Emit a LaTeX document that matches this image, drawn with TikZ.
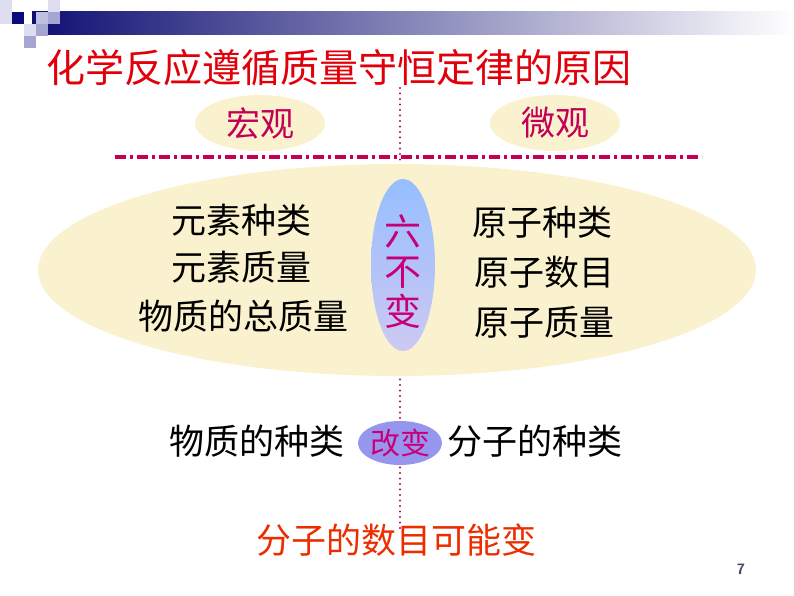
\documentclass[tikz,border=0pt]{standalone}
\usepackage{fontspec}
\newfontfamily\cjk{Noto Sans CJK SC}
\usetikzlibrary{shapes.geometric}
\definecolor{titlered}{RGB}{225,0,10}
\definecolor{maroon}{RGB}{195,0,85}
\definecolor{magtext}{RGB}{200,0,120}
\definecolor{paleyel}{RGB}{250,242,206}
\definecolor{orangered}{RGB}{235,45,0}
\definecolor{navybar}{RGB}{15,15,115}
\definecolor{sqlight}{RGB}{222,222,240}
\definecolor{sqmid}{RGB}{165,165,210}
\definecolor{sqnavy}{RGB}{10,10,125}
\definecolor{liftblue}{RGB}{150,150,238}
\definecolor{pagenum}{RGB}{70,70,110}
\tikzset{
  cjktext/.style={font=\cjk\fontsize{35}{40}\selectfont, inner sep=0pt},
  titletext/.style={font=\cjk\fontsize{39}{43}\selectfont, text=titlered, inner sep=0pt},
  oval/.style={ellipse, fill=paleyel, inner sep=0pt},
  sideword/.style={cjktext, text=maroon, font=\cjk\fontsize{34}{38}\selectfont},
}
\begin{document}
\begin{tikzpicture}[x=1pt,y=-1pt]
\useasboundingbox (0,0) rectangle (794,596);
% header decoration
\shade[left color=navybar, right color=white] (32,12) rectangle (794,35);
\fill[sqlight] (0,0) rectangle (12,12);
\fill[sqlight] (0,12) rectangle (12,24);
\fill[sqnavy] (12,12) rectangle (24,24);
\fill[sqlight] (24,24) rectangle (36,36);
\fill[sqmid!70] (36,12) rectangle (48,24);
\fill[sqmid] (36,24) rectangle (48,36);
\fill[sqmid] (24,36) rectangle (36,48);
\fill[sqlight] (48,0) rectangle (60,12);
\fill[sqmid] (48,12) rectangle (60,24);
% title
\node[titletext, anchor=west] (title) at (46,68) {化学反应遵循质量守恒定律的原因};
% vertical dotted axis
\coordinate (axtop) at (400,88);
\coordinate (axbot) at (400,530);
\draw[maroon, line width=2.4pt, dash pattern=on 0pt off 5.5pt, line cap=round] (axtop) -- (axbot);
% macro / micro
\node[oval, minimum width=130pt, minimum height=56pt] (macro) at (260,123) {};
\node[sideword] at (macro) {宏观};
\node[oval, minimum width=130pt, minimum height=56pt] (micro) at (555,123) {};
\node[sideword] at (micro) {微观};
% dash-dot line
\coordinate (dl) at (115,157);
\coordinate (dr) at (702,157);
\draw[maroon, line width=3.5pt, dash pattern=on 11pt off 4pt on 3pt off 4pt] (dl) -- (dr);
% big ellipse
\node[oval, minimum width=718pt, minimum height=212pt] (big) at (397,270) {};
% six unchanged
\node[ellipse, minimum width=64pt, minimum height=172pt, inner sep=0pt,
  top color={rgb,255:red,150;green,190;blue,255}, bottom color={rgb,255:red,205;green,200;blue,242}] (six) at (403,265) {};
\node[cjktext, text=magtext, align=center, font=\cjk\fontsize{37}{40}\selectfont] (sixt) at (403,272) {六\\不\\变};
% left list
\node[cjktext] (l1) at (241,220) {元素种类};
\node[cjktext] (l2) at (241,267) {元素质量};
\node[cjktext] (l3) at (243,316) {物质的总质量};
% right list
\node[cjktext, anchor=west] (r1) at (472,222) {原子种类};
\node[cjktext, anchor=west] (r2) at (474,272) {原子数目};
\node[cjktext, anchor=west] (r3) at (474,322) {原子质量};
% change row
\node[ellipse, fill=liftblue, minimum width=84pt, minimum height=44pt, inner sep=0pt] (chg) at (400,443) {};
\node[cjktext, text=magtext, font=\cjk\fontsize{30}{34}\selectfont] at (chg) {改变};
\node[cjktext, anchor=east] (c1) at (345,441) {物质的种类};
\node[cjktext, anchor=west] (c2) at (447,441) {分子的种类};
% bottom
\node[cjktext, text=orangered] (bot) at (396,540) {分子的数目可能变};
% page number
\node[font=\sffamily\bfseries\fontsize{15}{17}\selectfont, text=pagenum, inner sep=0pt] (pg) at (741,569) {7};
\end{tikzpicture}
\end{document}
